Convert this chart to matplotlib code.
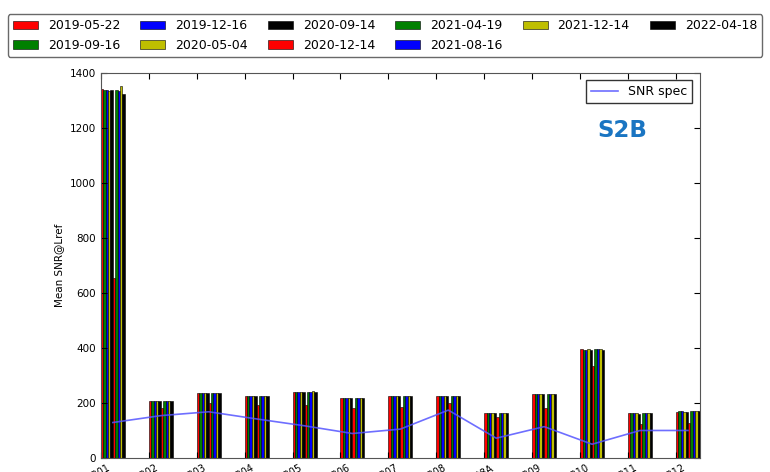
import matplotlib
matplotlib.use("Agg")
import matplotlib.pyplot as plt
import numpy as np

bands = ["B01", "B02", "B03", "B04", "B05", "B06", "B07", "B08", "B8A", "B09", "B10", "B11", "B12"]
dates = ["2019-05-22", "2019-09-16", "2019-12-16", "2020-05-04", "2020-09-14",
         "2020-12-14", "2021-04-19", "2021-08-16", "2021-12-14", "2022-04-18"]
colors = ["#ff0000", "#008000", "#0000ff", "#bfbf00", "#000000",
          "#ff0000", "#008000", "#0000ff", "#bfbf00", "#000000"]

snr_2019_05_22 = [1340, 208, 236, 225, 241, 218, 226, 226, 165, 233, 395, 165, 169]
snr_2019_09_16 = [1338, 207, 236, 224, 241, 217, 226, 225, 165, 232, 394, 164, 170]
snr_2019_12_16 = [1337, 208, 235, 224, 240, 217, 225, 225, 164, 232, 394, 162, 170]
snr_2020_05_04 = [1336, 207, 236, 225, 241, 218, 226, 226, 165, 233, 395, 163, 169]
snr_2020_09_14 = [1338, 206, 235, 224, 240, 217, 224, 225, 164, 231, 393, 160, 168]
snr_2020_12_14 = [655, 182, 200, 193, 193, 182, 187, 201, 149, 182, 333, 124, 128]
snr_2021_04_19 = [1337, 208, 236, 225, 241, 218, 226, 226, 165, 233, 395, 163, 170]
snr_2021_08_16 = [1336, 208, 236, 225, 241, 217, 226, 226, 165, 233, 395, 162, 171]
snr_2021_12_14 = [1352, 207, 236, 225, 242, 218, 226, 226, 165, 234, 395, 164, 171]
snr_2022_04_18 = [1325, 206, 235, 224, 241, 217, 225, 225, 164, 232, 394, 163, 170]
series = [snr_2019_05_22, snr_2019_09_16, snr_2019_12_16, snr_2020_05_04, snr_2020_09_14,
          snr_2020_12_14, snr_2021_04_19, snr_2021_08_16, snr_2021_12_14, snr_2022_04_18]

snr_spec = [129, 154, 168, 142, 117, 89, 105, 174, 72, 114, 50, 100, 100]

fig = plt.figure(figsize=(7.7, 4.72), dpi=100)
ax = fig.add_axes([0.131, 0.0297, 0.778, 0.8157])

x = np.arange(len(bands))
w = 0.05
handles = []
for k, (vals, c, d) in enumerate(zip(series, colors, dates)):
    h = ax.bar(x + k * w, vals, width=w, align="edge", color=c,
               edgecolor="black", linewidth=0.4, label=d)
    handles.append(h)

spec_line, = ax.plot(x + 5 * w, snr_spec, color="#5555ff", alpha=0.85, linewidth=1.2, label="SNR spec")

ax.set_xlim(0, 12.5)
ax.set_ylim(0, 1400)
ax.set_yticks(np.arange(0, 1401, 200))
ax.set_xticks(x)
ax.set_xticklabels(bands, rotation=30, fontsize=7)
ax.tick_params(axis="y", labelsize=7.5)
ax.tick_params(direction="in", top=True, right=True, length=4)
for s in ax.spines.values():
    s.set_color("#555555")
ax.set_ylabel("Mean SNR@Lref", fontsize=7.5)

ax.legend(handles=[spec_line], loc="upper right", fontsize=9, frameon=True,
          fancybox=False, edgecolor="black", handlelength=2.2,
          borderaxespad=0.6)
ax.text(0.87, 0.85, "S2B", transform=ax.transAxes, fontsize=16.5, fontweight="bold",
        color="#1a75c2", ha="center", va="center")

fig.legend(handles=handles, labels=dates, loc="upper center", ncol=6,
           bbox_to_anchor=(0.5, 0.983), fontsize=9, frameon=True, fancybox=True,
           edgecolor="#444444", handlelength=2.0, handletextpad=0.8,
           columnspacing=1.6, borderpad=0.4, labelspacing=0.5)

fig.savefig("out.png", dpi=100)
